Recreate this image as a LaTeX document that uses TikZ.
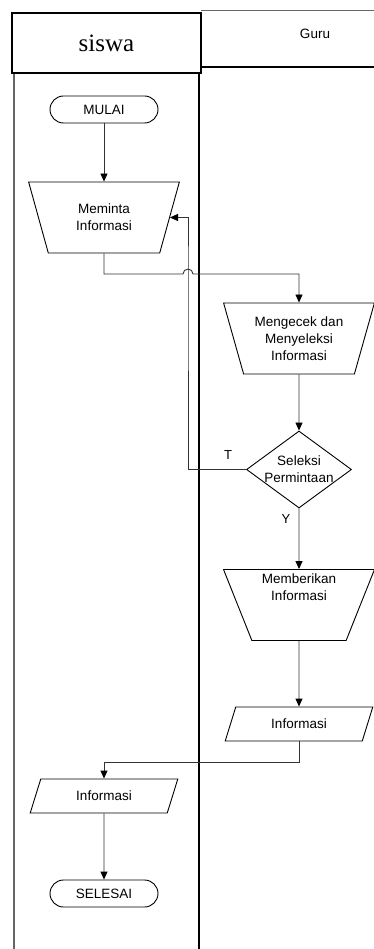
\documentclass[tikz,border=0pt]{standalone}
\usepackage{fontspec}
\setmainfont{Liberation Sans}
\newfontfamily\serifface{Liberation Serif}
\usetikzlibrary{shapes.geometric,arrows.meta,calc}
\begin{document}
\begin{tikzpicture}[x=1pt,y=-1pt,
  every node/.style={font=\fontsize{13.5}{17}\selectfont},
  shapeline/.style={draw=black,line width=0.9pt},
  term/.style={shapeline,rectangle,rounded corners=13.5pt,minimum width=108pt,minimum height=27pt,inner sep=0},
  trap/.style={shapeline,trapezium,trapezium left angle=110,trapezium right angle=110,trapezium stretches=true,minimum width=151pt,minimum height=71pt,inner sep=0,align=center},
  io/.style={shapeline,trapezium,trapezium left angle=65,trapezium right angle=115,trapezium stretches=true,minimum width=148pt,minimum height=34pt,inner sep=0},
  dec/.style={shapeline,diamond,minimum width=105pt,minimum height=77pt,inner sep=0},
  conn/.style={draw=black!80,line width=0.9pt},
  arr/.style={conn,-{Triangle[length=8pt,width=7pt,color=black]}},
  lbl/.style={font=\fontsize{13}{15}\selectfont}
]
\fill[white] (0,0) rectangle (374,949);
\useasboundingbox (0,0) rectangle (374,949);

% lanes
\draw[black!60,line width=1.3pt] (14,73) -- (14,949);
\draw[black,line width=1.6pt] (199,73) -- (199,949);
\draw[black!60,line width=1pt] (201,11) -- (374,11);
\draw[black,line width=1.2pt] (201,67) -- (374,67);
\node[draw=black,line width=1.6pt,minimum width=189pt,minimum height=60pt,inner sep=0,font=\serifface\fontsize{25}{28}\selectfont] (siswa) at (106.5,43) {siswa};
\node (guru) at (315,34) {Guru};

% nodes
\node[term] (mulai) at (104,109.5) {MULAI};
\node[trap] (meminta) at (104,217.5) {Meminta\\Informasi};
\node[trap] (cek) at (299,338.5) {Mengecek dan\\Menyeleksi\\Informasi};
\node[dec,label={[align=center]center:Seleksi\\Permintaan}] (sel) at (299,469.5) {};
\node[trap] (beri) at (299,605) {\phantom{M}};
\node[align=center] (beritxt) at (299,587) {Memberikan\\Informasi};
\node[io] (info1) at (299,724) {Informasi};
\node[io] (info2) at (104,796) {Informasi};
\node[term] (selesai) at (104,893.5) {SELESAI};

\coordinate (hop) at (188,274);

% connectors
\draw[arr] (mulai) -- (meminta);
\draw[arr] (meminta.south) |- ([xshift=-5pt]hop) arc[start angle=180,end angle=0,radius=5pt] -| (cek.north);
\draw[arr] (cek) -- (sel);
\draw[arr] (sel.west) -| (hop) |- (meminta.east);
\node[lbl] (t) at ([xshift=-18pt,yshift=14pt]sel.west) {T};
\draw[arr] (sel) -- (beri);
\node[lbl] (y) at ([xshift=-13pt,yshift=-11pt]sel.south) {Y};
\draw[arr] (beri) -- (info1);
\draw[arr] (info1.south) -- ++(0,21) -| (info2.north);
\draw[arr] (info2) -- (selesai);
\end{tikzpicture}
\end{document}
